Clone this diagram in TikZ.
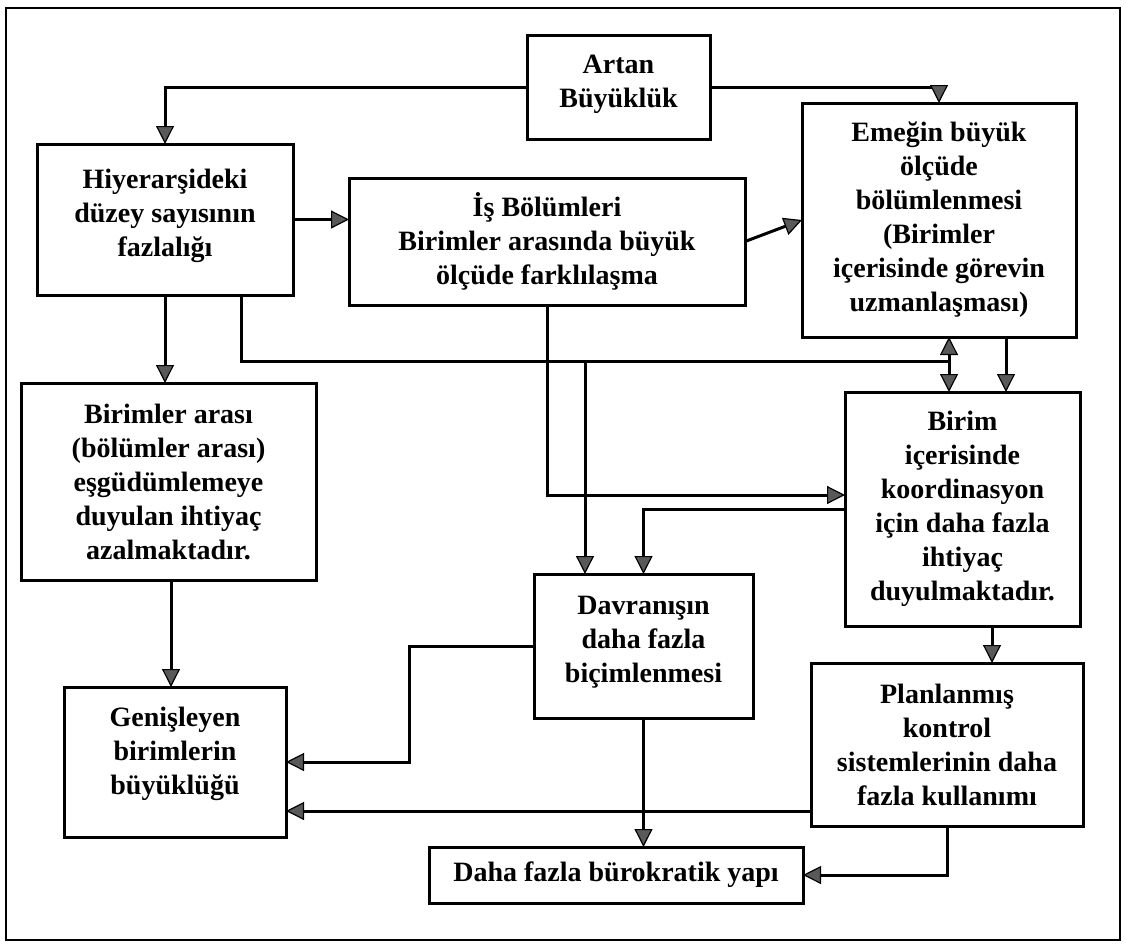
\documentclass[tikz,border=0pt]{standalone}
\usepackage{fontspec}
\setmainfont{Liberation Serif}
\usetikzlibrary{arrows.meta}

\tikzset{
  box/.style={draw, line width=3pt, inner sep=0pt, outer sep=0pt},
  txt/.style={align=center, inner sep=0pt, font=\fontsize{28}{34}\selectfont\bfseries},
  ln/.style={line width=3pt},
  arr/.style={ln, -{Triangle[length=18pt,width=18pt,fill=gray!70!black,line width=1.2pt]}},
  frame/.style={line width=2.2pt}
}

% \bx[dy]{name}{x1}{y1}{x2}{y2}{text}: framed box between two corners,
% text centred and raised by dy
\newcommand\bx[7][0]{%
  \node[box, minimum width={(#5)-(#3)}, minimum height={(#6)-(#4)}]
    (#2) at ({((#3)+(#5))/2},{((#4)+(#6))/2}) {};
  \node[txt, yshift=#1pt] (#2-t) at (#2.center) {#7};}

\begin{document}
\begin{tikzpicture}[x=1pt,y=-1pt]
\useasboundingbox (0,0) rectangle (1126,946);
\draw[frame] (6,8) rectangle (1120,940);

\bx[3]{art}{527}{35}{710}{139}{Artan\\Büyüklük}
\bx[4]{hiy}{37}{144}{293}{295}{Hiyerarşideki\\düzey sayısının\\fazlalığı}
\bx{is}{349}{178}{745}{305}{İş Bölümleri\\Birimler arasında büyük\\ölçüde farklılaşma}
\bx{eme}{802}{103}{1076}{337}{Emeğin büyük\\ölçüde\\bölümlenmesi\\(Birimler\\içerisinde görevin\\uzmanlaşması)}
\bx{ba}{21}{383}{316}{580}{Birimler arası\\(bölümler arası)\\eşgüdümlemeye\\duyulan ihtiyaç\\azalmaktadır.}
\bx{bir}{845}{392}{1080}{626}{Birim\\içerisinde\\koordinasyon\\için daha fazla\\ihtiyaç\\duyulmaktadır.}
\bx[4]{dav}{534}{574}{753}{718}{Davranışın\\daha fazla\\biçimlenmesi}
\bx[8]{gen}{64}{687}{286}{837}{Genişleyen\\birimlerin\\büyüklüğü}
\bx{pl}{811}{663}{1083}{826}{Planlanmış\\kontrol\\sistemlerinin daha\\fazla kullanımı}
\bx{daha}{429}{847}{803}{903}{Daha fazla bürokratik yapı}

% junctions and guide positions for the connectors
\coordinate (jE) at (949,361);
\coordinate (jD) at (585,361);
\coordinate (xh) at (241,0);
\coordinate (xe) at (1006,0);
\coordinate (xb) at (992,0);
\coordinate (xg) at (409,0);
\coordinate (xba) at (171,0);
\coordinate (yp) at (0,811);

\draw[arr] (art.west) -| (hiy.north);
\draw[arr] (art.east) -| (eme.north);
\draw[arr] (hiy.east) -- (hiy.east -| is.west);
\draw[arr] (is.east) -- (eme.west);
\draw[arr] (hiy.south) -- (hiy.south |- ba.north);

\draw[ln] (hiy.south -| xh) |- (jE);
\draw[arr] (jE) -- (eme.south -| jE);
\draw[arr] (jE) -- (bir.north -| jE);
\draw[arr] (jD) -- (dav.north -| jD);

\draw[arr] (is.south) |- ([yshift=14pt]bir.west);
\draw[arr] (bir.west) -| (dav.north);
\draw[arr] (eme.south -| xe) -- (bir.north -| xe);
\draw[arr] (ba.south -| xba) -- (gen.north -| xba);
\draw[arr] (bir.south -| xb) -- (pl.north -| xb);

\draw[arr] (dav.west) -- (dav.west -| xg) |- (gen.east);
\draw[arr] (pl.west |- yp) -- (gen.east |- yp);
\draw[arr] (dav.south) -- (dav.south |- daha.north);
\draw[arr] (pl.south) |- (daha.east);
\end{tikzpicture}
\end{document}
